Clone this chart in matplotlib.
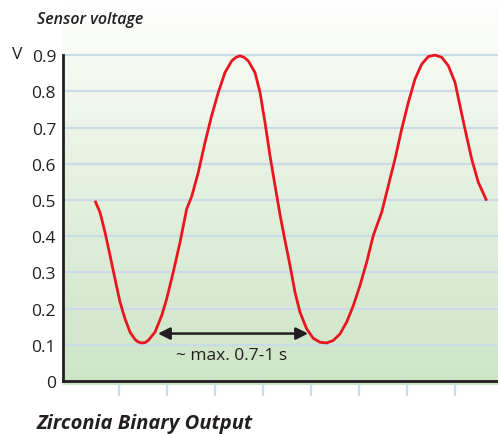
import numpy as np
import matplotlib
matplotlib.use("Agg")
import matplotlib.pyplot as plt
from matplotlib.colors import LinearSegmentedColormap

# sensor voltage trace (time in tick units, volts)
t = [0.500, 0.604, 0.708, 0.813, 0.917, 1.021, 1.125, 1.229, 1.333, 1.396,
     1.473, 1.542, 1.610, 1.750, 1.890, 1.994, 2.131, 2.271, 2.410, 2.515,
     2.652, 2.792, 2.931, 3.069, 3.208, 3.348, 3.438, 3.521, 3.604, 3.694,
     3.833, 3.938, 4.042, 4.146, 4.250, 4.354, 4.458, 4.563, 4.667, 4.771,
     4.910, 5.048, 5.188, 5.327, 5.465, 5.604, 5.744, 5.881, 6.021, 6.160,
     6.298, 6.473, 6.610, 6.750, 6.890, 7.027, 7.167, 7.306, 7.444, 7.583,
     7.723, 7.860, 8.000, 8.104, 8.208, 8.348, 8.485, 8.660]
volts = [0.498, 0.466, 0.411, 0.347, 0.282, 0.218, 0.172, 0.135, 0.115, 0.108,
         0.105, 0.106, 0.112, 0.135, 0.181, 0.227, 0.301, 0.383, 0.475, 0.510,
         0.576, 0.659, 0.733, 0.797, 0.852, 0.884, 0.894, 0.898, 0.894, 0.884,
         0.852, 0.797, 0.714, 0.622, 0.540, 0.460, 0.388, 0.319, 0.245, 0.190,
         0.144, 0.118, 0.107, 0.105, 0.112, 0.130, 0.163, 0.208, 0.264, 0.328,
         0.402, 0.466, 0.539, 0.613, 0.696, 0.769, 0.834, 0.875, 0.896, 0.900,
         0.894, 0.871, 0.825, 0.760, 0.696, 0.613, 0.549, 0.498]

yticks = [0, 0.1, 0.2, 0.3, 0.4, 0.5, 0.6, 0.7, 0.8, 0.9]
ytick_labels = ["0", "0.1", "0.2", "0.3", "0.4", "0.5", "0.6", "0.7", "0.8", "0.9"]
xticks = [1, 2, 3, 4, 5, 6, 7, 8]
arrow_span = (1.81, 4.94)
arrow_level = 0.131
span_text = "~ max. 0.7-1 s"

plt.rcParams['font.family'] = ['Open Sans', 'DejaVu Sans']

fig = plt.figure(figsize=(4.98, 4.35), dpi=100)
ax = fig.add_axes([63/498, 53/435, 435/498, 382/435])
ax.set_xlim(-0.1667, 8.896)
ax.set_ylim(0, 1.055)

# white-to-green background
grad = np.linspace(0, 1, 256).reshape(-1, 1)
cmap = LinearSegmentedColormap.from_list(
    "bg", [(0.0, "#cde5c6"), (0.55, "#e6f1e1"), (0.88, "#f8fbf6"), (1.0, "#ffffff")])
ax.imshow(grad, cmap=cmap, aspect="auto", origin="lower",
          extent=[-0.1667, 8.896, -0.012, 1.055], clip_on=False, zorder=0)

for y in yticks[1:]:
    ax.axhline(y, color="#c8dbe6", lw=1.6, zorder=1)

ax.plot(t, volts, color="#e8161e", lw=2.0, zorder=3,
        solid_capstyle="butt", solid_joinstyle="round")

ax.annotate("", xy=(arrow_span[0], arrow_level), xytext=(arrow_span[1], arrow_level),
            arrowprops=dict(arrowstyle="<|-|>", color="#231f20", lw=1.8,
                            mutation_scale=18, shrinkA=0, shrinkB=0), zorder=4)
ax.text(sum(arrow_span) / 2 - 0.02, arrow_level - 0.058, span_text,
        ha="center", va="center", fontsize=12.5, color="#231f20")

for s in ["top", "right"]:
    ax.spines[s].set_visible(False)
ax.spines["left"].set_bounds(0, 0.9)
ax.spines["left"].set_linewidth(2)
ax.spines["bottom"].set_linewidth(2)
ax.spines["left"].set_color("#231f20")
ax.spines["bottom"].set_color("#231f20")

ax.set_yticks(yticks)
ax.set_yticklabels(ytick_labels)
ax.tick_params(axis="y", length=0, pad=5, labelsize=12.5, labelcolor="#231f20")
ax.set_xticks(xticks)
ax.set_xticklabels([])
ax.tick_params(axis="x", length=11, width=1.6, color="#c8dbe6", direction="out")

fig.text(12/498, 1 - 55/435, "V", fontsize=12.5, color="#231f20", va="center")
fig.text(37/498, 1 - 20/435, "Sensor voltage", fontsize=11.5, style="italic",
         fontweight="semibold", color="#231f20", va="center")
fig.text(37/498, 1 - 424/435, "Zirconia Binary Output", fontsize=14.5, style="italic",
         fontweight="bold", color="#231f20", va="center")

fig.savefig("out.png", dpi=100)
